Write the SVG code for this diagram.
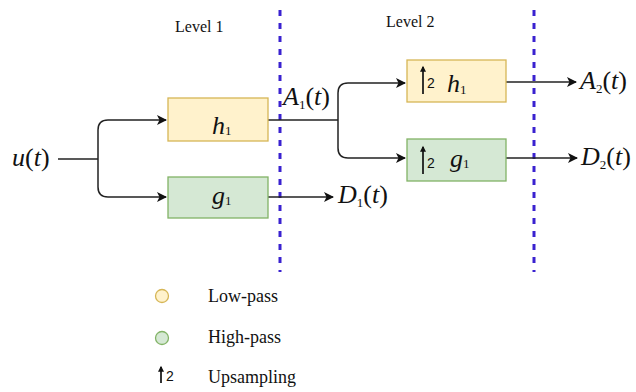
<svg xmlns="http://www.w3.org/2000/svg" width="636" height="392" viewBox="0 0 636 392">
<style>
text{font-family:"Liberation Serif","Times New Roman",serif;fill:#111}
.math{font-size:26px}
.it{font-style:italic}
.sub{font-size:13px}
.low{fill:#fff2cc;stroke:#d6b656;stroke-width:1.3}
.high{fill:#d5e8d4;stroke:#82b366;stroke-width:1.3}
.wire{fill:none;stroke:#222;stroke-width:1.5}
.dash{stroke:#3a22d0;stroke-width:3;stroke-dasharray:6 7;fill:none}
.up{font-family:"Liberation Sans",Arial,sans-serif;font-size:14px}
.upl{stroke:#111;stroke-width:1.7}
</style>
<defs>
<marker id="ah" viewBox="0 0 10 10" refX="9" refY="5" markerWidth="10" markerHeight="10" markerUnits="userSpaceOnUse" orient="auto">
<path d="M0,0 L10,5 L0,10 L2.5,5 Z" fill="#111"/>
</marker>
<marker id="uh" viewBox="0 0 10 10" refX="8" refY="5" markerWidth="7" markerHeight="6" markerUnits="userSpaceOnUse" orient="auto">
<path d="M0,0 L10,5 L0,10 Z" fill="#111"/>
</marker>
</defs>
<rect width="636" height="392" fill="#fff"/>

<g id="levels">
<line class="dash" x1="280" y1="10" x2="280" y2="272"/>
<line class="dash" x1="534" y1="10" x2="534" y2="272"/>
<text x="175" y="32" font-size="16">Level 1</text>
<text x="386" y="27" font-size="16">Level 2</text>
</g>

<g id="connectors">
<path class="wire" d="M58,159 H98"/>
<path class="wire" d="M98,159 V130 Q98,120 108,120 H166" marker-end="url(#ah)"/>
<path class="wire" d="M98,159 V187 Q98,197 108,197 H166" marker-end="url(#ah)"/>
<path class="wire" d="M268,120 H338"/>
<path class="wire" d="M338,120 V93 Q338,83 348,83 H405" marker-end="url(#ah)"/>
<path class="wire" d="M338,120 V148 Q338,158 348,158 H405" marker-end="url(#ah)"/>
<path class="wire" d="M268,197 H333" marker-end="url(#ah)"/>
<path class="wire" d="M506,82 H576" marker-end="url(#ah)"/>
<path class="wire" d="M506,158 H577" marker-end="url(#ah)"/>
</g>

<g id="u">
<text class="math" x="12" y="166" font-size="28"><tspan class="it">u</tspan>(<tspan class="it">t</tspan>)</text>
</g>

<g id="h1">
<rect class="low" x="168" y="98" width="100" height="43"/>
<text class="math" x="212" y="134"><tspan class="it">h</tspan><tspan class="sub" dy="1">1</tspan></text>
</g>

<g id="g1">
<rect class="high" x="168" y="177" width="100" height="41"/>
<text class="math" x="212" y="204"><tspan class="it">g</tspan><tspan class="sub" dy="1">1</tspan></text>
</g>

<g id="h1up">
<rect class="low" x="407" y="60" width="99" height="42"/>
<line class="upl" x1="423" y1="94" x2="423" y2="67" marker-end="url(#uh)"/>
<text class="up" x="427" y="88">2</text>
<text class="math" x="447" y="92"><tspan class="it">h</tspan><tspan class="sub" dy="2">1</tspan></text>
</g>

<g id="g1up">
<rect class="high" x="407" y="139" width="99" height="42"/>
<line class="upl" x1="423" y1="174" x2="423" y2="147" marker-end="url(#uh)"/>
<text class="up" x="427" y="168">2</text>
<text class="math" x="450" y="167"><tspan class="it">g</tspan><tspan class="sub" dy="1">1</tspan></text>
</g>

<g id="A1">
<text class="math" x="283" y="105"><tspan class="it">A</tspan><tspan class="sub" dy="4">1</tspan><tspan dy="-4">(</tspan><tspan class="it">t</tspan>)</text>
</g>
<g id="D1">
<text class="math" x="338" y="203"><tspan class="it">D</tspan><tspan class="sub" dy="4">1</tspan><tspan dy="-4">(</tspan><tspan class="it">t</tspan>)</text>
</g>
<g id="A2">
<text class="math" x="580" y="89"><tspan class="it">A</tspan><tspan class="sub" dy="4">2</tspan><tspan dy="-4">(</tspan><tspan class="it">t</tspan>)</text>
</g>
<g id="D2">
<text class="math" x="581" y="165"><tspan class="it">D</tspan><tspan class="sub" dy="4">2</tspan><tspan dy="-4">(</tspan><tspan class="it">t</tspan>)</text>
</g>

<g id="legend">
<circle class="low" cx="162" cy="296" r="6.5"/>
<text x="208" y="302" font-size="18">Low-pass</text>
<circle class="high" cx="162" cy="338" r="6.5"/>
<text x="208" y="343" font-size="18">High-pass</text>
<line class="upl" x1="161" y1="383" x2="161" y2="367" marker-end="url(#uh)"/>
<text class="up" x="166" y="381" font-size="16">2</text>
<text x="208" y="383" font-size="18">Upsampling</text>
</g>
</svg>
